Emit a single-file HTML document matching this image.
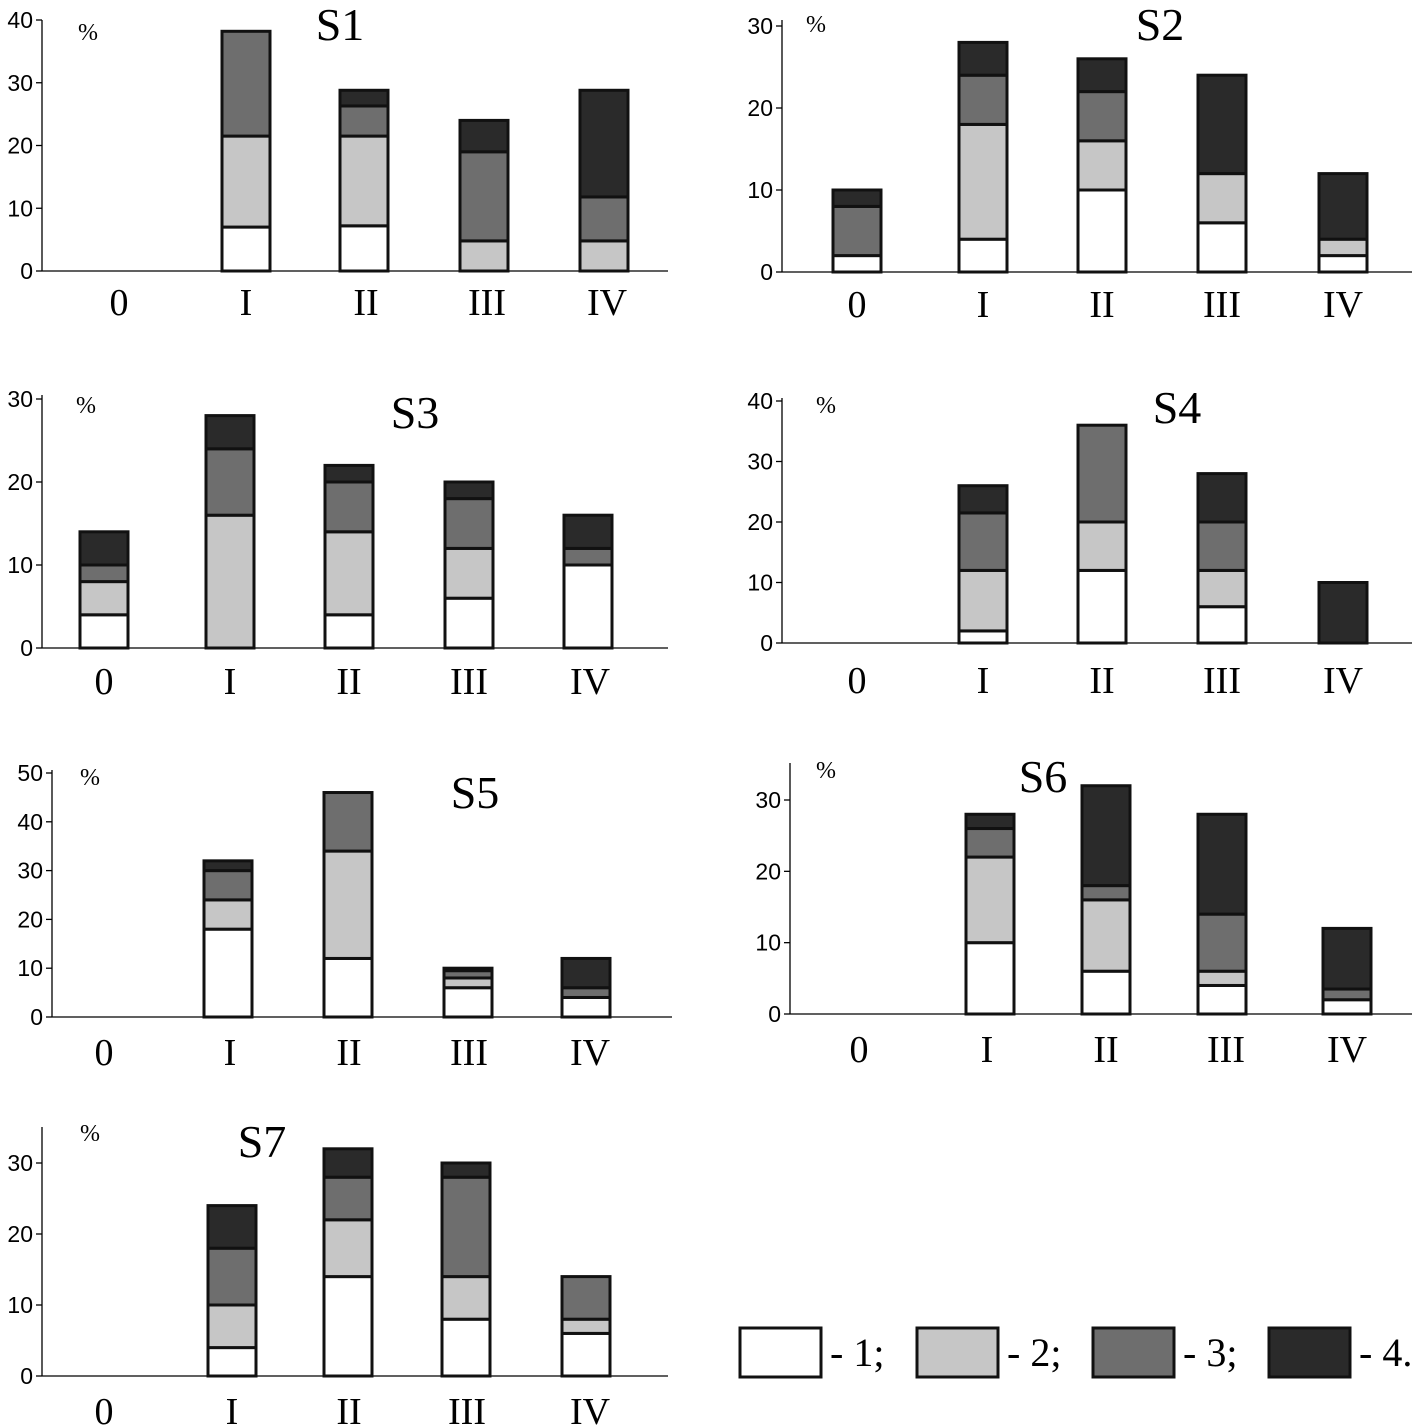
<!DOCTYPE html>
<html><head><meta charset="utf-8"><style>
html,body{margin:0;padding:0;background:#fff;}
svg{display:block;}
</style></head><body>
<svg id="chart" width="1427" height="1427" viewBox="0 0 1427 1427" xmlns="http://www.w3.org/2000/svg"></svg>
<script>
const categories = ["0","I","II","III","IV"];
const fills = ["#ffffff","#c6c6c6","#6e6e6e","#2a2a2a"];
// each series: values per category for classes 1..4
const s1_c1=[0,7,7.2,0,0], s1_c2=[0,14.5,14.3,4.8,4.8], s1_c3=[0,16.7,4.8,14.2,7], s1_c4=[0,0,2.5,5,17];
const s2_c1=[2,4,10,6,2], s2_c2=[0,14,6,6,2], s2_c3=[6,6,6,0,0], s2_c4=[2,4,4,12,8];
const s3_c1=[4,0,4,6,10], s3_c2=[4,16,10,6,0], s3_c3=[2,8,6,6,2], s3_c4=[4,4,2,2,4];
const s4_c1=[0,2,12,6,0], s4_c2=[0,10,8,6,0], s4_c3=[0,9.5,16,8,0], s4_c4=[0,4.5,0,8,10];
const s5_c1=[0,18,12,6,4], s5_c2=[0,6,22,2,0], s5_c3=[0,6,12,1.5,2], s5_c4=[0,2,0,0.5,6];
const s6_c1=[0,10,6,4,2], s6_c2=[0,12,10,2,0], s6_c3=[0,4,2,8,1.5], s6_c4=[0,2,14,14,8.5];
const s7_c1=[0,4,14,8,6], s7_c2=[0,6,8,6,2], s7_c3=[0,8,6,14,6], s7_c4=[0,6,4,2,0];
const s1_ticks=[0,10,20,30,40], s2_ticks=[0,10,20,30], s3_ticks=[0,10,20,30], s4_ticks=[0,10,20,30,40], s5_ticks=[0,10,20,30,40,50], s6_ticks=[0,10,20,30], s7_ticks=[0,10,20,30];

const panels=[
 {name:"S1",series:[s1_c1,s1_c2,s1_c3,s1_c4],ticks:s1_ticks,ax:42,x2:668,y0:271,ymaxPx:20,ymax:40,top:20,cx:[119,246,364,484,604],lx:[119,246,366,487,607],ly:315,tx:340,ty:40,px:88,py:40},
 {name:"S2",series:[s2_c1,s2_c2,s2_c3,s2_c4],ticks:s2_ticks,ax:782,x2:1412,y0:272,ymaxPx:26,ymax:30,top:20,cx:[857,983,1102,1222,1343],lx:[857,983,1102,1222,1343],ly:317,tx:1160,ty:40,px:816,py:32},
 {name:"S3",series:[s3_c1,s3_c2,s3_c3,s3_c4],ticks:s3_ticks,ax:42,x2:668,y0:648,ymaxPx:399,ymax:30,top:395,cx:[104,230,349,469,588],lx:[104,230,349,469,590],ly:694,tx:415,ty:428,px:86,py:413},
 {name:"S4",series:[s4_c1,s4_c2,s4_c3,s4_c4],ticks:s4_ticks,ax:782,x2:1412,y0:643,ymaxPx:401,ymax:40,top:398,cx:[857,983,1102,1222,1343],lx:[857,983,1102,1222,1343],ly:693,tx:1177,ty:423,px:826,py:413},
 {name:"S5",series:[s5_c1,s5_c2,s5_c3,s5_c4],ticks:s5_ticks,ax:52,x2:672,y0:1017,ymaxPx:773,ymax:50,top:770,cx:[104,228,348,468,586],lx:[104,230,349,469,590],ly:1065,tx:475,ty:808,px:90,py:785},
 {name:"S6",series:[s6_c1,s6_c2,s6_c3,s6_c4],ticks:s6_ticks,ax:790,x2:1412,y0:1014,ymaxPx:800,ymax:30,top:763,cx:[859,990,1106,1222,1347],lx:[859,987,1106,1226,1347],ly:1062,tx:1043,ty:792,px:826,py:778},
 {name:"S7",series:[s7_c1,s7_c2,s7_c3,s7_c4],ticks:s7_ticks,ax:42,x2:668,y0:1376,ymaxPx:1163,ymax:30,top:1127,cx:[104,232,348,466,586],lx:[104,232,349,467,590],ly:1424,tx:262,ty:1157,px:90,py:1141}
];
const NS="http://www.w3.org/2000/svg";
const svg=document.getElementById('chart');
function mk(tag,attrs,parent){const e=document.createElementNS(NS,tag);for(const k in attrs)e.setAttribute(k,attrs[k]);(parent||svg).appendChild(e);return e;}
panels.forEach(p=>{
 const g=mk('g',{});
 
 
 const y=v=>p.y0-(v/p.ymax)*(p.y0-p.ymaxPx);
 const ax=mk('line',{x1:p.ax,y1:p.top,x2:p.ax,y2:p.y0,stroke:'#000','stroke-width':1.3},g);
 
 
 const bx=mk('line',{x1:p.ax,y1:p.y0,x2:p.x2,y2:p.y0,stroke:'#000','stroke-width':1.3},g);
 
 
 p.ticks.forEach(t=>{
  const tk=mk('line',{x1:p.ax-6,y1:y(t),x2:p.ax,y2:y(t),stroke:'#000','stroke-width':1.3},g);
  
  
  const tl=mk('text',{x:p.ax-9,y:y(t)+8,'text-anchor':'end','font-family':'Liberation Sans, sans-serif','font-size':23},g);
  tl.textContent=t;
  
  
 });
 categories.forEach((c,i)=>{
  const cl=mk('text',{x:p.lx[i],y:p.ly,'text-anchor':'middle','font-family':'Liberation Serif, serif','font-size':38},g);
  cl.textContent=c;
  
  
  let acc=0;
  p.series.forEach((s,k)=>{
   const v=s[i]; if(!v) return;
   const r=mk('rect',{x:p.cx[i]-24,y:y(acc+v),width:48,height:y(acc)-y(acc+v),fill:fills[k],stroke:'#111','stroke-width':3},g);
   
   
   acc+=v;
  });
 });
 const t=mk('text',{x:p.tx,y:p.ty,'text-anchor':'middle','font-family':'Liberation Serif, serif','font-size':46},g);
 t.textContent=p.name;
 
 
 const pc=mk('text',{x:p.px,y:p.py,'text-anchor':'middle','font-family':'Liberation Serif, serif','font-size':24},g);
 pc.textContent='%';
 
 
});
// legend
const legendLabels=["- 1;","- 2;","- 3;","- 4."];
const lg=mk('g',{});


const legendBoxX=[740,917,1093,1269];
legendLabels.forEach((l,i)=>{
 const r=mk('rect',{x:legendBoxX[i],y:1328,width:81,height:49,fill:fills[i],stroke:'#111','stroke-width':3},lg);
 
 
 const t=mk('text',{x:legendBoxX[i]+90,y:1366,'font-family':'Liberation Serif, serif','font-size':40},lg);
 t.textContent=l;
 
 
});
</script>
</body></html>
